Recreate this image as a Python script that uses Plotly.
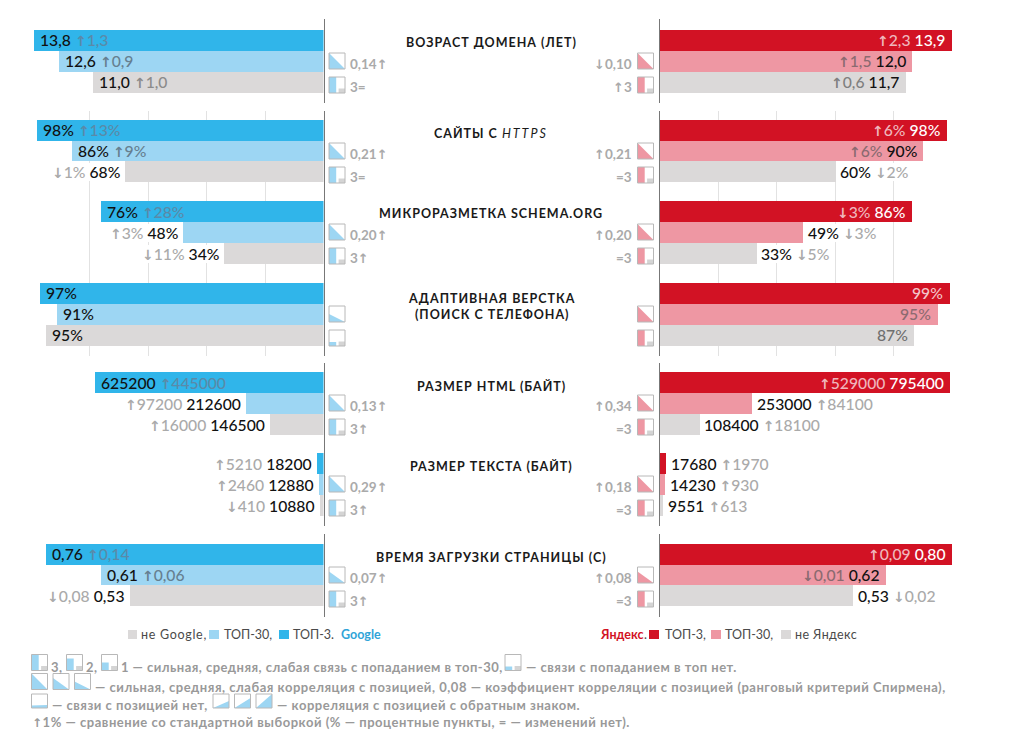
import plotly.graph_objects as go

# ---------- data ----------
metrics = ["ВОЗРАСТ ДОМЕНА (ЛЕТ)", "САЙТЫ С <i style='font-weight:400;letter-spacing:2px'>HTTPS</i>", "МИКРОРАЗМЕТКА SCHEMA.ORG",
           "АДАПТИВНАЯ ВЕРСТКА<br>(ПОИСК С ТЕЛЕФОНА)", "РАЗМЕР HTML (БАЙТ)",
           "РАЗМЕР ТЕКСТА (БАЙТ)", "ВРЕМЯ ЗАГРУЗКИ СТРАНИЦЫ (С)"]
cats_google = ["ТОП-3", "ТОП-30", "не Google"]
cats_yandex = ["ТОП-3", "ТОП-30", "не Яндекс"]

g_top3 = [13.8, 98, 76, 97, 625200, 18200, 0.76]
g_top30 = [12.6, 86, 48, 91, 212600, 12880, 0.61]
g_rest = [11.0, 68, 34, 95, 146500, 10880, 0.53]
y_top3 = [13.9, 98, 86, 99, 795400, 17680, 0.80]
y_top30 = [12.0, 90, 49, 95, 253000, 14230, 0.62]
y_rest = [11.7, 60, 33, 87, 108400, 9551, 0.53]

g_top3_txt = ["13,8", "98%", "76%", "97%", "625200", "18200", "0,76"]
g_top30_txt = ["12,6", "86%", "48%", "91%", "212600", "12880", "0,61"]
g_rest_txt = ["11,0", "68%", "34%", "95%", "146500", "10880", "0,53"]
y_top3_txt = ["13,9", "98%", "86%", "99%", "795400", "17680", "0,80"]
y_top30_txt = ["12,0", "90%", "49%", "95%", "253000", "14230", "0,62"]
y_rest_txt = ["11,7", "60%", "33%", "87%", "108400", "9551", "0,53"]

g_top3_delta = ["↑1,3", "↑13%", "↑28%", "", "↑445000", "↑5210", "↑0,14"]
g_top30_delta = ["↑0,9", "↑9%", "↑3%", "", "↑97200", "↑2460", "↑0,06"]
g_rest_delta = ["↑1,0", "↓1%", "↓11%", "", "↑16000", "↓410", "↓0,08"]
y_top3_delta = ["↑2,3", "↑6%", "↓3%", "", "↑529000", "↑1970", "↑0,09"]
y_top30_delta = ["↑1,5", "↑6%", "↓3%", "", "↑84100", "↑930", "↓0,01"]
y_rest_delta = ["↑0,6", "↓2%", "↓5%", "", "↑18100", "↑613", "↓0,02"]

g_corr_txt = ["0,14↑", "0,21↑", "0,20↑", "", "0,13↑", "0,29↑", "0,07↑"]
g_link_txt = ["3=", "3=", "3↑", "", "3↑", "3↑", "3↑"]
y_corr_txt = ["↓0,10", "↑0,21", "↑0,20", "", "↑0,34", "↑0,18", "↑0,08"]
y_link_txt = ["↑3", "=3", "=3", "", "=3", "=3", "=3"]
g_corr_level = [3, 3, 3, 1, 3, 3, 2]
g_link_level = [3, 3, 3, 0, 3, 3, 3]
y_corr_level = [3, 3, 3, 3, 3, 3, 2]
y_link_level = [3, 3, 3, 3, 3, 3, 3]

footer_1a = "3,"
footer_1b = "2,"
footer_1c = "1 — сильная, средняя, слабая связь с попаданием в топ-30,"
footer_1d = "— связи с попаданием в топ нет."
footer_2 = "— сильная, средняя, слабая корреляция с позицией, 0,08 — коэффициент корреляции с позицией (ранговый критерий Спирмена),"
footer_3a = "— связи с позицией нет,"
footer_3b = "— корреляция с позицией с обратным знаком."
footer_4 = "↑1% — сравнение со стандартной выборкой (% — процентные пункты, = — изменений нет)."

# ---------- style / layout ----------
W, H = 1024, 754
FONT = "Lato, 'Noto Sans', sans-serif"
BLUE, LBLUE, GREY = "#30b5ea", "#9dd6f3", "#dbd9d9"
RED, PINK = "#d21224", "#ee97a3"
XL, XR = 323.5, 659.5
px_per_unit = [21.0, 2.925, 2.925, 2.925, 0.000365, 0.000365, 365.0]
group_dom = [(19, 103), (111, 193), (193, 273), (273, 356), (363, 444), (444, 526), (534, 617)]
group_bars = [(30, 93), (120, 182), (201, 264), (283, 346), (372, 435), (453, 516), (544, 606)]
pct_groups = {1, 2, 3}
TITLE_Y = [43, 133, 214, 306, 386, 466, 557]
INSIDE_G = [[1, 1, 1], [1, 1, 0], [1, 0, 0], [1, 1, 1], [1, 0, 0], [0, 0, 0], [1, 1, 0]]
INSIDE_Y = [[1, 1, 1], [1, 1, 0], [1, 0, 0], [1, 1, 1], [1, 0, 0], [0, 0, 0], [1, 1, 0]]

fig = go.Figure()
ann, shp = [], []


def fx(px):
    return px / W


def fy(px):
    return 1 - px / H


def arrows(s, size=12):
    for ch in "↑↓":
        s = s.replace(ch, f"<span style='font-family:DejaVu Sans;font-weight:700;font-size:{size}px'>{ch}</span>")
    return s


def text(px, py, s, size=12.5, color="#999", anchor="left", bold=False, spacing=None):
    s = arrows(s, round(size * 0.95))
    body = f"<b>{s}</b>" if bold else s
    if spacing is not None:
        body = f"<span style='letter-spacing:{spacing}px'>{body}</span>"
    ann.append(dict(x=fx(px), y=fy(py), xref="paper", yref="paper", xanchor=anchor, yanchor="middle",
                    text=body, showarrow=False, font=dict(family=FONT, size=size, color=color),
                    borderpad=0, borderwidth=0))


def rect(x0, y0, x1, y1, fill=None, line=None):
    shp.append(dict(type="rect", xref="paper", yref="paper", x0=fx(x0), x1=fx(x1), y0=fy(y0), y1=fy(y1),
                    fillcolor=fill if fill else "rgba(0,0,0,0)",
                    line=dict(color=line if line else "rgba(0,0,0,0)", width=1 if line else 0)))


def poly(pts, fill):
    d = "M" + " L".join(f"{fx(a):.5f},{fy(b):.5f}" for a, b in pts) + " Z"
    shp.append(dict(type="path", xref="paper", yref="paper", path=d, fillcolor=fill, line=dict(width=0)))


def corr_icon(x, y, color, level, inverse=False, s=16, sy=None):
    sy = sy or s
    h = {0: 0.18, 1: 0.5, 2: 0.72, 3: 1.0}[level]
    rect(x, y, x + s, y + sy, fill="white")
    if level == 0:
        poly([(x, y + sy * .82), (x + s, y + sy * .78), (x + s, y + sy), (x, y + sy)], color)
    elif inverse:
        poly([(x, y + sy), (x + s, y + sy * (1 - h)), (x + s, y + sy)], color)
    else:
        poly([(x, y + sy * (1 - h)), (x + s, y + sy), (x, y + sy)], color)
    rect(x, y, x + s, y + sy, line="#b8b8b8")


def link_icon(x, y, color, level, s=16):
    rect(x, y, x + s, y + s, fill="white")
    fh = {0: 0.25, 1: 0.5, 2: 0.75, 3: 1.0}[level]
    rect(x, y + s * (1 - fh), x + s * .45, y + s, fill=color)
    rect(x + s * .6, y + s * .72, x + s, y + s, fill="#d4d4d4")
    rect(x, y, x + s, y + s, line="#b8b8b8")


def rich(val, delta, val_col, delta_col, delta_first):
    v = f"<span style='color:{val_col};font-weight:500'>{val}</span>"
    if not delta:
        return v
    d = f"<span style='color:{delta_col};font-weight:500'>{arrows(delta, 14)}</span>"
    return f"{d} {v}" if delta_first else f"{v} {d}"


def add_group(i, side):
    k = 2 * i + (1 if side == "g" else 2)
    xn, yn = f"x{k}", f"y{k}"
    top, bottom = group_dom[i]
    b0, b1 = group_bars[i]
    row = (b1 - b0) / 3
    s = px_per_unit[i]
    cats = cats_google if side == "g" else cats_yandex
    if side == "g":
        vals = [g_top3[i], g_top30[i], g_rest[i]]
        txt = [g_top3_txt[i], g_top30_txt[i], g_rest_txt[i]]
        dlt = [g_top3_delta[i], g_top30_delta[i], g_rest_delta[i]]
        cols = [BLUE, LBLUE, GREY]
        dom = [0, fx(XL)]
        rng = [XL / s, 0]
        inside = INSIDE_G[i]
    else:
        vals = [y_top3[i], y_top30[i], y_rest[i]]
        txt = [y_top3_txt[i], y_top30_txt[i], y_rest_txt[i]]
        dlt = [y_top3_delta[i], y_top30_delta[i], y_rest_delta[i]]
        cols = [RED, PINK, GREY]
        dom = [fx(XR), 1]
        rng = [0, (W - XR) / s]
        inside = INSIDE_Y[i]
    fig.add_trace(go.Bar(x=vals, y=cats, orientation="h", width=1, marker=dict(color=cols, line=dict(width=0)),
                         xaxis=xn, yaxis=yn, showlegend=False))
    suffix = "" if k == 1 else str(k)
    grid = i in pct_groups
    fig.update_layout({
        "xaxis" + suffix: dict(domain=dom, range=rng, anchor=yn, showticklabels=False, ticks="", zeroline=False,
                               showline=False, showgrid=grid, gridcolor="#e2e2e2", gridwidth=1,
                               tickmode="array", tickvals=[20, 40, 60, 80] if grid else []),
        "yaxis" + suffix: dict(domain=[fy(bottom), fy(top)], anchor=xn, type="category", categoryorder="array",
                               categoryarray=cats, side="right" if side == "g" else "left",
                               range=[2.5 + (bottom - b1) / row, -0.5 - (b0 - top) / row],
                               showticklabels=False, ticks="", showgrid=False, zeroline=False, showline=True,
                               linecolor="#777777", linewidth=1),
    })
    for r in range(3):
        ins = bool(inside[r])
        if side == "g":
            if ins:
                delta_col = ["#5a8aa8", "#667f90", "#8b8b8b"][r]
                t = rich(txt[r], dlt[r], "#111", delta_col, False)
                anchor, shift = "left", 6
            else:
                t = rich(txt[r], dlt[r], "#111", "#aaaaaa", True)
                anchor, shift = "right", -5
        else:
            if ins:
                delta_col = ["#efb7bd", "#8a6a70", "#7f7f7f"][r]
                val_col = ["#ffffff", "#111", "#111"][r]
                if not dlt[r]:
                    val_col = ["#f3c5ca", "#8d6a70", "#6f6f6f"][r]
                t = rich(txt[r], dlt[r], val_col, delta_col, True)
                anchor, shift = "right", -6
            else:
                t = rich(txt[r], dlt[r], "#111", "#aaaaaa", False)
                anchor, shift = "left", 5
        ann.append(dict(x=vals[r], y=cats[r], xref=xn, yref=yn, xanchor=anchor, xshift=shift, yanchor="middle",
                        text=t, showarrow=False, font=dict(family=FONT, size=15.7, color="#111"),
                        borderpad=0, borderwidth=0, bgcolor=None if ins else "white"))
    # icons
    if side == "g":
        corr_icon(329, b0 + 23, LBLUE, g_corr_level[i])
        link_icon(329, b0 + 47, LBLUE, g_link_level[i])
        if g_corr_txt[i]:
            text(350, b0 + 34, g_corr_txt[i], 13.5, "#aaaaaa", "left", True)
            text(350, b0 + 57, g_link_txt[i], 13.5, "#aaaaaa", "left", True)
    else:
        corr_icon(637.5, b0 + 23, PINK, y_corr_level[i])
        link_icon(637.5, b0 + 47, PINK, y_link_level[i])
        if y_corr_txt[i]:
            text(632, b0 + 34, y_corr_txt[i], 13.5, "#aaaaaa", "right", True)
            text(632, b0 + 57, y_link_txt[i], 13.5, "#aaaaaa", "right", True)


for i in range(len(metrics)):
    add_group(i, "g")
    add_group(i, "y")
    text(491, TITLE_Y[i], metrics[i], 12.5, "#1a1a1a", "center", True, spacing=1.0)

# legend rows
LEG = "#4a4a4a"
rect(128, 630, 137, 639, fill=GREY)
text(141, 634, "не Google,", 12.5, LEG, spacing=0.7)
rect(209, 630, 219, 639, fill=LBLUE)
text(224, 634, "ТОП-30,", 12.5, LEG)
rect(279, 630, 289, 639, fill=BLUE)
text(293, 634, "ТОП-3.", 12.5, LEG)
text(341, 634, "Google", 12.5, "#30a4d8", "left", True)
text(600, 634, "Яндекс", 12.5, RED, "left", True)
text(644, 634, ".", 12.5, LEG)
rect(649, 630, 659, 639, fill=RED)
text(665, 634, "ТОП-3,", 12.5, LEG)
rect(711, 630, 721, 639, fill=PINK)
text(725, 634, "ТОП-30,", 12.5, LEG)
rect(781, 630, 791, 639, fill=GREY)
text(795, 634, "не Яндекс", 12.5, LEG, spacing=0.4)

# footer
FC = "#999999"
SP = 0.52
link_icon(31.5, 654.5, LBLUE, 3, s=16)
text(51, 667, footer_1a, 13, FC, "left", True, SP)
link_icon(66.5, 654.5, LBLUE, 2, s=16)
text(86, 667, footer_1b, 13, FC, "left", True, SP)
link_icon(101.5, 654.5, LBLUE, 1, s=16)
text(121, 667, footer_1c, 13, FC, "left", True, 0.46)
link_icon(505, 654.5, LBLUE, 0, s=16)
text(526, 667, footer_1d, 13, FC, "left", True, SP)
corr_icon(31.5, 673.5, LBLUE, 3, s=16)
corr_icon(53, 673.5, LBLUE, 2, s=16)
corr_icon(74.5, 673.5, LBLUE, 1, s=16)
text(95, 687, footer_2, 13, FC, "left", True, SP)
corr_icon(31.5, 694, LBLUE, 0, s=16, sy=14)
text(52, 705, footer_3a, 13, FC, "left", True, SP)
corr_icon(213, 694, LBLUE, 1, True, s=16, sy=14)
corr_icon(234.5, 694, LBLUE, 2, True, s=16, sy=14)
corr_icon(256, 694, LBLUE, 3, True, s=16, sy=14)
text(277, 705, footer_3b, 13, FC, "left", True, SP)
text(32, 722, footer_4, 13, FC, "left", True, SP)

fig.update_layout(width=W, height=H, margin=dict(l=0, r=0, t=0, b=0), paper_bgcolor="white", plot_bgcolor="rgba(0,0,0,0)",
                  annotations=ann, shapes=shp, showlegend=False, bargap=0,
                  font=dict(family=FONT), hovermode=False)
fig.write_html("out.html", post_script="document.body.style.margin='0';", config={"displayModeBar": False})
